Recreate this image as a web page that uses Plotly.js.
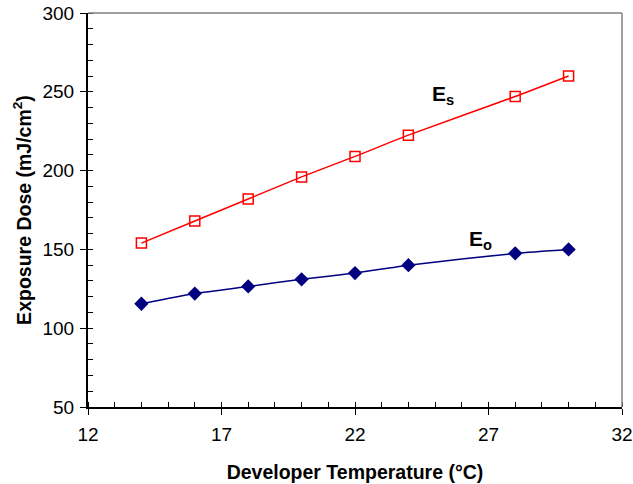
<!DOCTYPE html>
<html>
<head>
<meta charset="utf-8">
<script src="https://cdn.plot.ly/plotly-3.0.1.min.js"></script>
<style>html,body{margin:0;padding:0;background:#fff;}#chart{width:633px;height:484px;}</style>
</head>
<body>
<div id="chart"></div>
<script>
const temperature = [14, 16, 18, 20, 22, 24, 28, 30];
const es = [154, 168, 182, 196, 209, 222.5, 247, 260];
const eo = [115.5, 122, 126.5, 131, 135, 140, 147.5, 150];

const FONT = 'Arial, "Liberation Sans", Helvetica, sans-serif';

const traces = [
  {
    x: temperature, y: es, name: 'Es', type: 'scatter', mode: 'lines+markers',
    line: {color: '#FF0000', width: 1.5, shape: 'spline', smoothing: 0.6},
    marker: {symbol: 'square-open', size: 10, color: '#FF0000', line: {color: '#FF0000', width: 1.5}}
  },
  {
    x: temperature, y: eo, name: 'Eo', type: 'scatter', mode: 'lines+markers',
    line: {color: '#000080', width: 1.5, shape: 'spline', smoothing: 0.6},
    marker: {symbol: 'diamond', size: 11, color: '#000080'}
  }
];

const layout = {
  width: 633, height: 484,
  margin: {l: 88, r: 11, t: 13, b: 77},
  paper_bgcolor: '#fff', plot_bgcolor: '#fff',
  showlegend: false,
  font: {family: FONT, color: '#000', size: 18},
  xaxis: {
    range: [12, 32], tick0: 12, dtick: 5, showgrid: false, zeroline: false,
    showline: true, linecolor: '#000', linewidth: 2,
    ticks: 'outside', ticklen: 6, tickwidth: 1, tickcolor: '#000', ticklabelstandoff: 3,
    minor: {ticks: 'inside', dtick: 1, tick0: 12, ticklen: 5, tickwidth: 1, tickcolor: '#000', showgrid: false},
    tickfont: {size: 19, family: FONT},
    title: {text: '<b>Developer Temperature (°C)</b>', font: {size: 19.5, family: FONT}, standoff: 22}
  },
  yaxis: {
    range: [50, 300], tick0: 50, dtick: 50, showgrid: false, zeroline: false,
    showline: true, linecolor: '#000', linewidth: 2,
    ticks: 'outside', ticklen: 6, tickwidth: 1, tickcolor: '#000', ticklabelstandoff: 2,
    minor: {ticks: 'inside', dtick: 10, ticklen: 5, tickwidth: 1, tickcolor: '#000', showgrid: false},
    tickfont: {size: 19, family: FONT},
    title: {text: '<b>Exposure Dose (mJ/cm<sup>2</sup>)</b>', font: {size: 19.5, family: FONT}, standoff: 6}
  },
  shapes: [
    {type: 'line', xref: 'paper', yref: 'paper', x0: 0, x1: 1, y0: 1, y1: 1, line: {color: '#808080', width: 1.5}},
    {type: 'line', xref: 'paper', yref: 'paper', x0: 1, x1: 1, y0: 0, y1: 1, line: {color: '#808080', width: 1.5}}
  ],
  annotations: [
    {x: 24.8, y: 248, xref: 'x', yref: 'y', xanchor: 'left', yanchor: 'middle', showarrow: false,
     text: '<b>E<sub>s</sub></b>', font: {size: 21, family: FONT, color: '#000'}},
    {x: 26.2, y: 156, xref: 'x', yref: 'y', xanchor: 'left', yanchor: 'middle', showarrow: false,
     text: '<b>E<sub>o</sub></b>', font: {size: 21, family: FONT, color: '#000'}}
  ]
};

Plotly.newPlot('chart', traces, layout, {displayModeBar: false, staticPlot: true});
</script>
</body>
</html>
